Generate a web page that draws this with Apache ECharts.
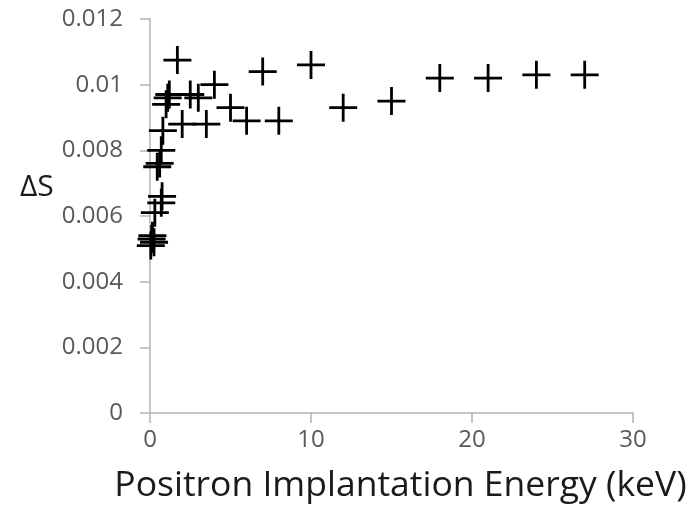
<!DOCTYPE html>
<html>
<head>
    <meta charset="utf-8">
    <title>Delta S vs energy</title>
    <script src="https://cdn.jsdelivr.net/npm/echarts@6/dist/echarts.min.js"></script>
    <style>
        html, body { margin: 0; padding: 0; background: #fff; }
        #chart { width: 700px; height: 509px; }
    </style>
</head>
<body>
    <div id="chart"></div>
<script>
// positron energy (keV) and delta S
var energy = [0.05, 0.1, 0.15, 0.25, 0.3, 0.7, 0.75, 0.45, 0.6, 0.7, 0.8, 1.0, 1.1, 1.2,
              1.7, 2.0, 2.5, 3.0, 3.5, 4.0, 5.0, 6.0, 7.0, 8.0, 10, 12, 15, 18, 21, 24, 27];
var deltaS = [0.0051, 0.0053, 0.0054, 0.0052, 0.0061, 0.0064, 0.0066, 0.0075, 0.0076, 0.0080, 0.0086, 0.0094, 0.0096, 0.0097,
              0.01075, 0.0088, 0.0097, 0.0096, 0.0088, 0.0100, 0.0093, 0.0089, 0.0104, 0.0089, 0.0106, 0.0093, 0.0095, 0.0102, 0.0102, 0.0103, 0.0103];
var xTicks = [0, 10, 20, 30];
var yTicks = [0, 0.002, 0.004, 0.006, 0.008, 0.01, 0.012];

var points = [];
for (var i = 0; i < energy.length; i++) {
    points.push([energy[i], deltaS[i]]);
}

// plus sign as a filled path
var plus = 'path://M-0.1,-1 H0.1 V-0.1 H1 V0.1 H0.1 V1 H-0.1 V0.1 H-1 V-0.1 H-0.1 Z';
var axisGrey = '#b3b3b3';

var myChart = echarts.init(document.getElementById('chart'));
myChart.setOption({
    animation: false,
    grid: { left: 150, right: 67, top: 19, bottom: 95 },
    xAxis: {
        type: 'value',
        min: xTicks[0],
        max: xTicks[xTicks.length - 1],
        interval: 10,
        name: 'Positron Implantation Energy (keV)',
        nameLocation: 'middle',
        nameGap: 55,
        nameTextStyle: { fontSize: 35.5, color: '#1a1a1a', fontFamily: 'Open Sans', padding: [0, 0, 0, 18] },
        splitLine: { show: false },
        axisLine: { show: true, lineStyle: { color: axisGrey, width: 1.5 } },
        axisTick: { show: true, length: 10, lineStyle: { color: axisGrey, width: 1.5 } },
        axisLabel: { fontSize: 24, color: '#595959', margin: 15, fontFamily: 'Open Sans' }
    },
    yAxis: {
        type: 'value',
        min: yTicks[0],
        max: yTicks[yTicks.length - 1],
        interval: 0.002,
        splitLine: { show: false },
        axisLine: { show: true, lineStyle: { color: axisGrey, width: 1.5 } },
        axisTick: { show: true, length: 10, lineStyle: { color: axisGrey, width: 1.5 } },
        axisLabel: { fontSize: 24, color: '#595959', margin: 27, fontFamily: 'Open Sans' }
    },
    graphic: [{
        type: 'text',
        left: 20,
        top: 172,
        style: { text: 'ΔS', fontSize: 30, fill: '#1a1a1a', fontFamily: 'Open Sans' }
    }],
    series: [{
        type: 'scatter',
        data: points,
        symbol: plus,
        symbolSize: 28,
        itemStyle: { color: '#000', opacity: 1 }
    }]
});
</script>
</body>
</html>
